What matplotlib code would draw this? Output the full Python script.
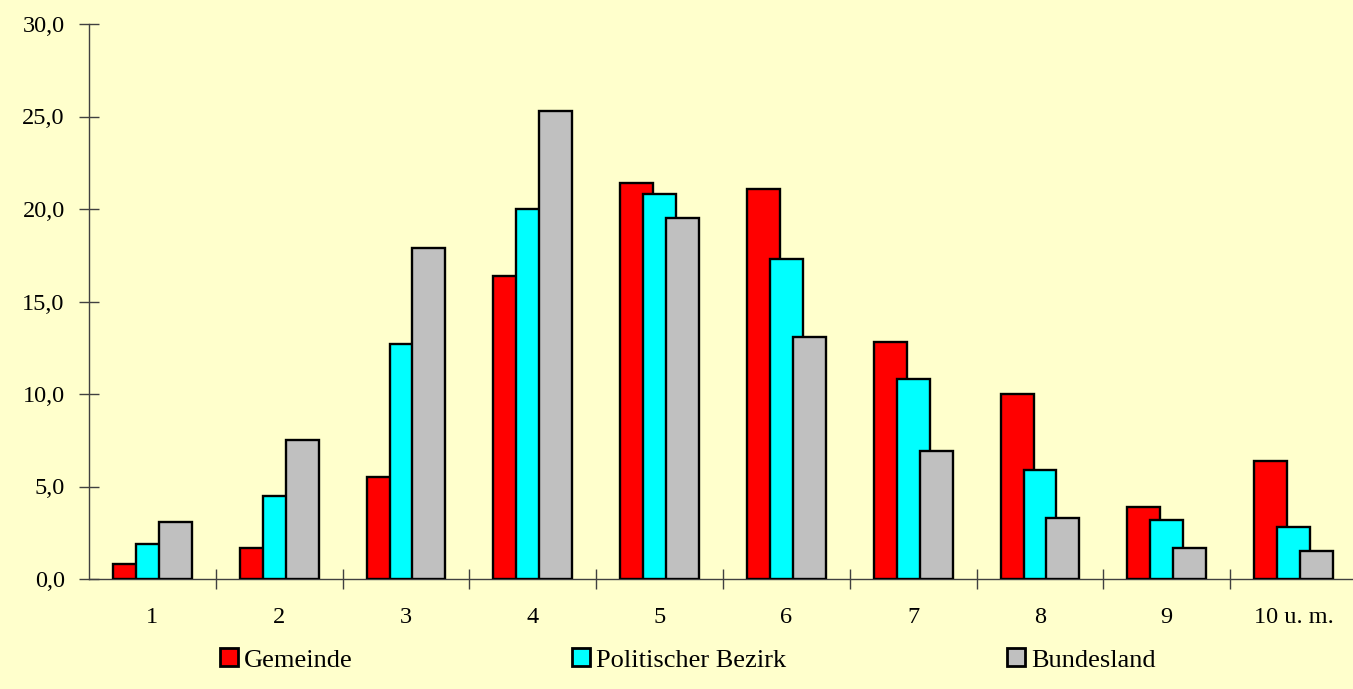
import matplotlib
matplotlib.use("Agg")
import matplotlib.pyplot as plt
import numpy as np
from matplotlib.patches import Patch

categories = ["1", "2", "3", "4", "5", "6", "7", "8", "9", "10 u. m."]
gemeinde = [0.8, 1.7, 5.5, 16.4, 21.4, 21.1, 12.8, 10.0, 3.9, 6.4]
bezirk = [1.9, 4.5, 12.7, 20.0, 20.8, 17.3, 10.8, 5.9, 3.2, 2.8]
bundesland = [3.1, 7.5, 17.9, 25.3, 19.5, 13.1, 6.9, 3.3, 1.7, 1.5]
series_names = ["Gemeinde", "Politischer Bezirk", "Bundesland"]
colors = ["#FF0000", "#00FFFF", "#C0C0C0"]
ytick_vals = [0, 5, 10, 15, 20, 25, 30]

plt.rcParams['font.family'] = ['Liberation Serif', 'DejaVu Serif']
bg = "#FFFFCC"
fig = plt.figure(figsize=(13.53, 6.89), dpi=100, facecolor=bg)
ax = fig.add_axes([89/1353, 1-579/689, (1357-89)/1353, (579-24)/689])
ax.set_facecolor(bg)

x = np.arange(1, len(categories)+1)
w = 0.26
offs = [-0.18, 0.0, 0.18]
for vals, c, o in zip([gemeinde, bezirk, bundesland], colors, offs):
    ax.bar(x + o, vals, width=w, color=c, edgecolor="black", linewidth=1.7, zorder=3)

ax.set_xlim(0.5, 10.5)
ax.set_ylim(0, 30)
for s in ["top", "right"]:
    ax.spines[s].set_visible(False)
for s in ["left", "bottom"]:
    ax.spines[s].set_color("#404040")
    ax.spines[s].set_linewidth(1.0)

ax.set_yticks(ytick_vals)
ax.set_yticklabels([f"{v:.1f}".replace(".", ",") for v in ytick_vals], fontsize=17.5)
ax.tick_params(axis="y", direction="inout", length=15, width=1.0, color="#404040", pad=10)

ax.set_xticks(x)
ax.set_xticklabels(categories, fontsize=17.5)
ax.set_xticks(np.arange(1.5, 10.5, 1.0), minor=True)
ax.tick_params(axis="x", which="major", length=0, pad=20)
ax.tick_params(axis="x", which="minor", direction="inout", length=15, width=1.0, color="#404040")

legend_x = [220/1353, 572/1353, 1007/1353]
for name, c, lx in zip(series_names, colors, legend_x):
    fig.legend(handles=[Patch(facecolor=c, edgecolor="black", linewidth=2.0)], labels=[name],
               loc="center left", bbox_to_anchor=(lx, 1-660/689), frameon=False,
               fontsize=19, handlelength=0.7, handleheight=0.68, handletextpad=0.2,
               borderpad=0, borderaxespad=0)

fig.savefig("out.png", dpi=100, facecolor=bg)
